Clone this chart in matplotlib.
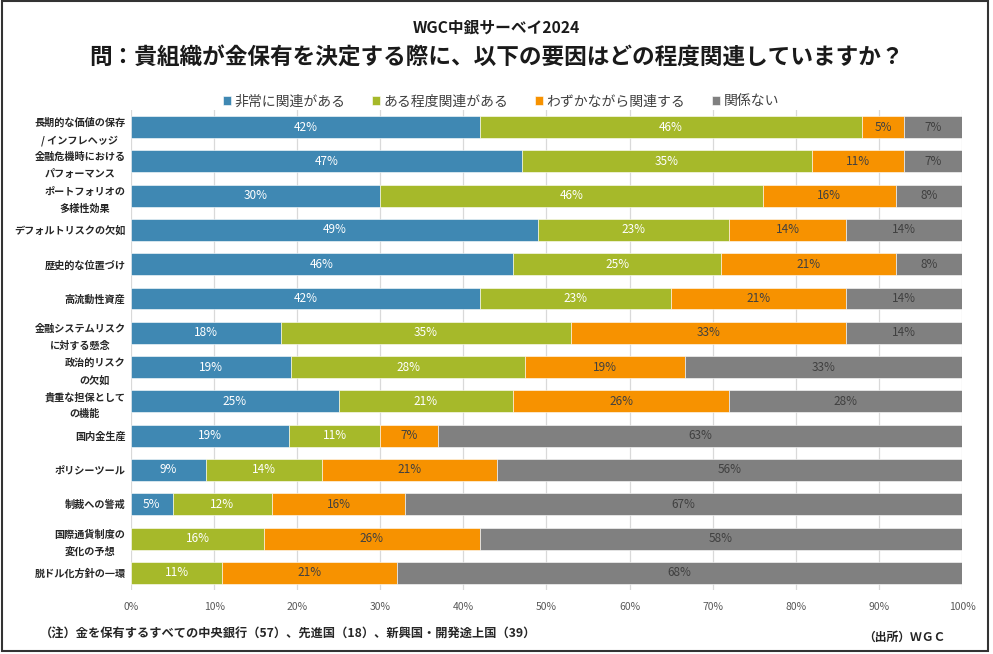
import matplotlib
matplotlib.use('Agg')
import matplotlib.pyplot as plt
from matplotlib.patches import Rectangle
import numpy as np

plt.rcParams['font.family'] = ['Noto Sans CJK JP', 'DejaVu Sans']

# data (percent of central banks)
categories = [
    '長期的な価値の保存\n/ インフレヘッジ',
    '金融危機時における\nパフォーマンス',
    'ポートフォリオの\n多様性効果',
    'デフォルトリスクの欠如',
    '歴史的な位置づけ',
    '高流動性資産',
    '金融システムリスク\nに対する懸念',
    '政治的リスク\nの欠如',
    '貴重な担保として\nの機能',
    '国内金生産',
    'ポリシーツール',
    '制裁への警戒',
    '国際通貨制度の\n変化の予想',
    '脱ドル化方針の一環',
]
very_relevant = [42, 47, 30, 49, 46, 42, 18, 19.3, 25, 19, 9, 5, 0, 0]
somewhat_relevant = [46, 35, 46, 23, 25, 23, 35, 28.1, 21, 11, 14, 12, 16, 11]
slightly_relevant = [5, 11, 16, 14, 21, 21, 33, 19.3, 26, 7, 21, 16, 26, 21]
not_relevant = [7, 7, 8, 14, 8, 14, 14, 33.3, 28, 63, 56, 67, 58, 68]

series_names = ['非常に関連がある', 'ある程度関連がある', 'わずかながら関連する', '関係ない']
colors = ['#3F88B3', '#A6B92A', '#F79200', '#808080']
label_colors = ['white', 'white', '#404040', '#404040']

fig = plt.figure(figsize=(9.93, 6.54), dpi=100)
ax = fig.add_axes([0.1319, 0.0979, 0.8369, 0.734])

series = [very_relevant, somewhat_relevant, slightly_relevant, not_relevant]
y = np.arange(len(categories))
left = np.zeros(len(categories))
for vals, name, c, lc in zip(series, series_names, colors, label_colors):
    vals = np.array(vals, dtype=float)
    bars = ax.barh(y, vals, left=left, height=0.64, color=c, label=name,
                   edgecolor='white', linewidth=0.4, zorder=3)
    for b, v, l in zip(bars, vals, left):
        if v > 0:
            ax.text(l + v / 2, b.get_y() + b.get_height() / 2, f'{round(v):d}%',
                    ha='center', va='center', fontsize=8.5, color=lc, zorder=4)
    left += vals

ax.set_xlim(0, 100)
ax.set_ylim(len(categories) - 0.5, -0.5)
ax.set_xticks(np.arange(0, 101, 10))
ax.set_xticklabels([f'{t}%' for t in range(0, 101, 10)], fontsize=7.5, color='#595959')
ax.set_yticks(y)
ax.set_yticklabels(categories, fontsize=7.3, fontweight='bold', color='#262626',
                   linespacing=1.85, multialignment='center')
ax.tick_params(length=0, pad=4)
ax.tick_params(axis='x', pad=9)
for s in ax.spines.values():
    s.set_visible(False)
ax.grid(axis='x', color='#D9D9D9', linewidth=0.9, zorder=0)

ax.legend(loc='upper center', bbox_to_anchor=(0.5 - 0.055, 1.0 + 28 / 480), ncol=4,
          frameon=False, fontsize=10, handlelength=0.6, handleheight=0.6,
          columnspacing=1.9, handletextpad=0.25, labelcolor='#404040')

fig.text(0.5, 1 - 27 / 654, 'WGC中銀サーベイ2024', ha='center', va='center',
         fontsize=11.3, fontweight='bold', color='#1a1a1a')
fig.text(0.5, 1 - 58 / 654, '問：貴組織が金保有を決定する際に、以下の要因はどの程度関連していますか？',
         ha='center', va='center', fontsize=16.3, fontweight='bold', color='#1a1a1a')
fig.text(40 / 993, 1 - 633 / 654,
         '（注）金を保有するすべての中央銀行（57）、先進国（18）、新興国・開発途上国（39）',
         ha='left', va='center', fontsize=8.8, fontweight='bold', color='#262626')
fig.text(945 / 993, 1 - 637 / 654, '（出所）ＷＧＣ', ha='right', va='center',
         fontsize=8.5, fontweight='bold', color='#262626')

# frame around the chart
fig.patches.append(Rectangle((0.002, 0.004), 0.993, 0.994, transform=fig.transFigure,
                             fill=False, edgecolor='#333333', linewidth=1.5))

fig.savefig('out.png', dpi=100)
